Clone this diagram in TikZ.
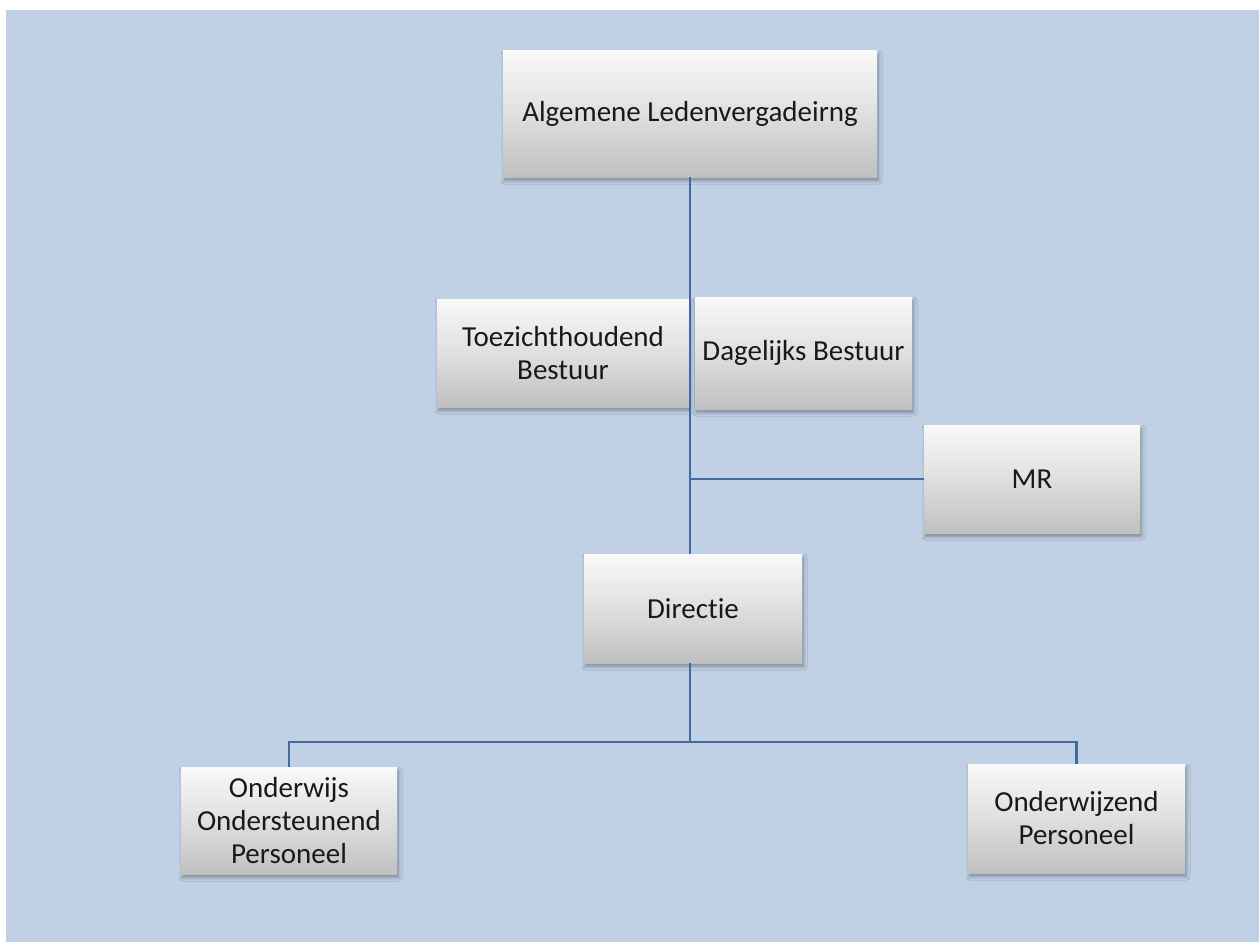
\documentclass[tikz,border=0pt]{standalone}
\usepackage{fontspec}
\setmainfont[Ligatures=NoCommon]{Carlito}
\usetikzlibrary{shadows,shadows.blur}
\definecolor{bgblue}{RGB}{192,209,230}
\definecolor{linkblue}{RGB}{66,106,158}
\definecolor{boxtop}{RGB}{249,249,249}
\definecolor{boxbot}{RGB}{192,192,192}
\tikzset{
  orgbox/.style={rectangle, inner sep=0pt, align=center,
    top color=boxtop, bottom color=boxbot, middle color=boxtop!55!boxbot,
    font=\fontsize{29}{33}\selectfont, text=black!90,
    blur shadow={shadow xshift=1.5pt, shadow yshift=-3.5pt, shadow blur steps=8, shadow blur radius=3.5pt, shadow opacity=35}},
  link/.style={draw=linkblue, line width=2.2pt}
}
\begin{document}
\begin{tikzpicture}[x=1pt,y=-1pt]
\useasboundingbox (0,0) rectangle (1259,942);
\fill[white] (0,0) rectangle (1259,942);
\fill[bgblue] (6,10) rectangle (1259,942);

\node[orgbox, minimum width=374pt, minimum height=126pt] (alv) at (690,114) {Algemene Ledenvergadeirng};
\node[orgbox, minimum width=252pt, minimum height=108pt] (tb) at (563,353) {Toezichthoudend\\Bestuur};
\node[orgbox, minimum width=217pt, minimum height=112pt] (db) at (803.5,353) {Dagelijks Bestuur};
\node[orgbox, minimum width=216pt, minimum height=108pt] (mr) at (1032,479) {MR};
\node[orgbox, minimum width=218pt, minimum height=109pt] (dir) at (693,608.5) {Directie};
\node[orgbox, minimum width=216pt, minimum height=107pt] (oop) at (289,820.5) {Onderwijs\\Ondersteunend\\Personeel};
\node[orgbox, minimum width=217pt, minimum height=109pt] (op) at (1076.5,818.5) {Onderwijzend\\Personeel};

\coordinate (j) at (690,742);

\draw[link] (alv.south) -- (alv.south |- dir.north);
\draw[link] (mr.west) -- (mr.west -| alv.south);
\draw[link] (j |- dir.south) -- (j);
\draw[link] (j) -| (oop.north);
\draw[link] (j) -| (op.north);
\end{tikzpicture}
\end{document}
